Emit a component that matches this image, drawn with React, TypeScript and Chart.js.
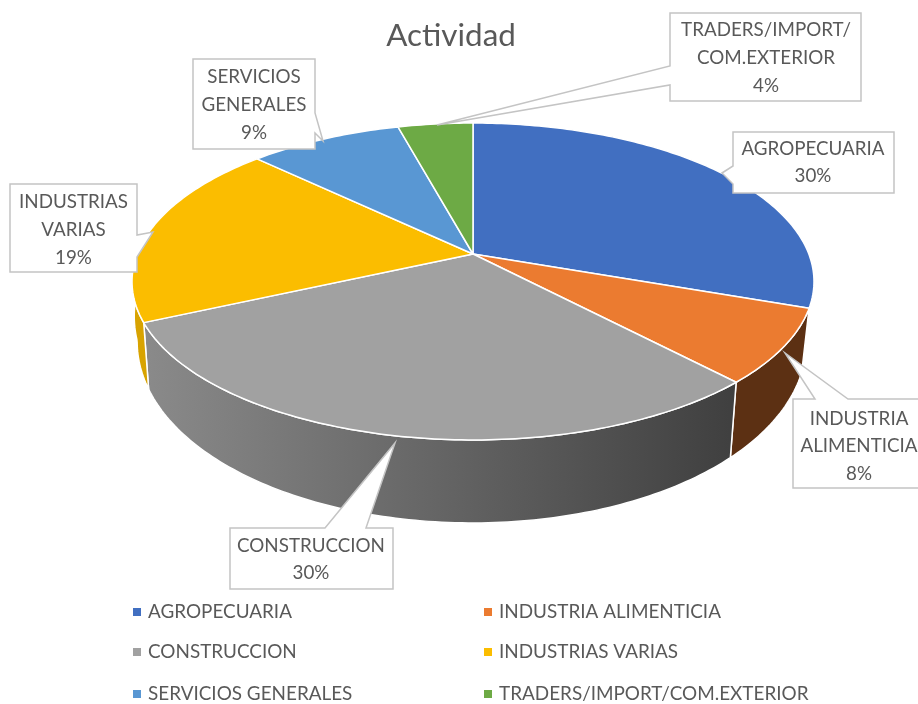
import React, { useEffect, useRef } from "react";
import { Chart, ArcElement, PieController, registerables } from "chart.js";

const TITLE = "Actividad";
const categories = [
  "AGROPECUARIA",
  "INDUSTRIA ALIMENTICIA",
  "CONSTRUCCION",
  "INDUSTRIAS VARIAS",
  "SERVICIOS GENERALES",
  "TRADERS/IMPORT/COM.EXTERIOR",
];
const shares = [30.4, 7.6, 30.2, 19, 8.6, 4.2];
const colors = ["#416FC1", "#EB7B30", "#A1A1A1", "#FBBD00", "#5997D3", "#6DAA45"];
const labelLines = [
  ["AGROPECUARIA"],
  ["INDUSTRIA", "ALIMENTICIA"],
  ["CONSTRUCCION"],
  ["INDUSTRIAS", "VARIAS"],
  ["SERVICIOS", "GENERALES"],
  ["TRADERS/IMPORT/", "COM.EXTERIOR"],
];

const FONT = "Lato, Carlito, sans-serif";
const TEXT = "#595959";
const EDGE = "#c4c4c4";

// Perspective of the disc, relative to the chart's outer radius
const PERSP = -0.1735;
const X_K = 1.326;
const Y_K = 0.6068;
const WALL_BASE = 0.2172;
const WALL_FRONT = 0.1106;

function project(a: any, theta: number) {
  const u = Math.cos(theta);
  const v = Math.sin(theta);
  const d = 1 + PERSP * v;
  const r = a.outerRadius;
  return { x: a.x + (r * X_K * u) / d, y: a.y + (r * Y_K * v) / d, v };
}
function projectBottom(a: any, theta: number) {
  const p = project(a, theta);
  const shrink = p.x > a.x ? 0.978 : Math.max(0.985, 1.008 - 0.135 * p.v);
  return {
    x: a.x + (p.x - a.x) * shrink,
    y: p.y + a.outerRadius * (WALL_BASE + WALL_FRONT * p.v),
  };
}

class Arc3D extends ArcElement {
  static id = "arc3d";
  draw(ctx: CanvasRenderingContext2D) {
    const a: any = this.getProps(["x", "y", "startAngle", "endAngle", "outerRadius"] as any, true);
    const o: any = this.options;
    ctx.save();
    ctx.beginPath();
    ctx.moveTo(a.x, a.y);
    const n = Math.max(4, Math.ceil((a.endAngle - a.startAngle) * 60));
    for (let i = 0; i <= n; i++) {
      const p = project(a, a.startAngle + ((a.endAngle - a.startAngle) * i) / n);
      ctx.lineTo(p.x, p.y);
    }
    ctx.closePath();
    ctx.fillStyle = o.backgroundColor;
    ctx.fill();
    ctx.lineJoin = "round";
    ctx.lineWidth = o.borderWidth;
    ctx.strokeStyle = o.borderColor;
    ctx.stroke();
    ctx.restore();
  }
}

class Pie3D extends PieController {
  static id = "pie3d";
  static defaults = { dataElementType: "arc3d" };
}

function shade(hex: string, f: number) {
  const n = parseInt(hex.slice(1), 16);
  const c = [(n >> 16) & 255, (n >> 8) & 255, n & 255].map((x) => Math.round(x * f));
  return `rgb(${c[0]},${c[1]},${c[2]})`;
}

const wallPlugin = {
  id: "wall",
  beforeDatasetsDraw(chart: any) {
    const ctx: CanvasRenderingContext2D = chart.ctx;
    const arcs = chart.getDatasetMeta(0).data;
    arcs.forEach((el: any, i: number) => {
      if (i === 0) return; // the first slice shows no side wall in the reference
      const a = el.getProps(["x", "y", "startAngle", "endAngle", "outerRadius"], true);
      const s = Math.max(a.startAngle, 0);
      const e = Math.min(a.endAngle, Math.PI);
      if (e <= s) return;
      const base = chart.data.datasets[0].backgroundColor[i];
      const g = ctx.createLinearGradient(145, 0, 737, 0);
      g.addColorStop(0, shade(base, 0.86));
      g.addColorStop(1, shade(base, 0.39));
      ctx.save();
      ctx.beginPath();
      const n = Math.max(4, Math.ceil((e - s) * 60));
      for (let k = 0; k <= n; k++) {
        const p = project(a, s + ((e - s) * k) / n);
        k ? ctx.lineTo(p.x, p.y) : ctx.moveTo(p.x, p.y);
      }
      for (let k = n; k >= 0; k--) {
        const p = projectBottom(a, s + ((e - s) * k) / n);
        ctx.lineTo(p.x, p.y);
      }
      ctx.closePath();
      ctx.fillStyle = g;
      ctx.fill();
      ctx.lineWidth = 1.5;
      ctx.strokeStyle = "#ffffff";
      ctx.stroke();
      ctx.restore();
    });
  },
};

// Callout layout: box, label centre, first text row, pointer outline
const callouts = [
  { box: [733, 132, 894, 193], cx: 813, y: 148.5, ptr: [[733, 166], [722, 173], [733, 184]], side: "left" },
  { box: [793, 399, 930, 488], cx: 859, y: 418.5, ptr: [[815, 399], [785, 353], [848, 399]], side: "top" },
  { box: [230, 528, 393, 589], cx: 311, y: 545.5, ptr: [[325, 528], [395, 443], [366, 528]], side: "top" },
  { box: [10, 184, 137, 272], cx: 73.5, y: 202, ptr: [[137, 235], [153, 232], [137, 257]], side: "right" },
  { box: [193, 59, 315, 149], cx: 254, y: 77, ptr: [[315, 113], [323, 141], [315, 133]], side: "right" },
  { box: [670, 13, 861, 101], cx: 766, y: 30, ptr: [[670, 66], [437, 125], [670, 85]], side: "left" },
];

const overlayPlugin = {
  id: "overlay",
  afterDatasetsDraw(chart: any) {
    const ctx: CanvasRenderingContext2D = chart.ctx;
    ctx.save();
    // title
    ctx.fillStyle = TEXT;
    ctx.textAlign = "center";
    ctx.textBaseline = "middle";
    ctx.font = `31.4px ${FONT}`;
    ctx.fillText(TITLE, 451, 36);

    // callouts
    callouts.forEach((c, i) => {
      const [l, t, r, b] = c.box;
      const [p0, tip, p1] = c.ptr;
      ctx.beginPath();
      ctx.moveTo(l, t);
      if (c.side === "top") { ctx.lineTo(p0[0], p0[1]); ctx.lineTo(tip[0], tip[1]); ctx.lineTo(p1[0], p1[1]); }
      ctx.lineTo(r, t);
      if (c.side === "right") { ctx.lineTo(p0[0], p0[1]); ctx.lineTo(tip[0], tip[1]); ctx.lineTo(p1[0], p1[1]); }
      ctx.lineTo(r, b);
      ctx.lineTo(l, b);
      if (c.side === "left") { ctx.lineTo(p1[0], p1[1]); ctx.lineTo(tip[0], tip[1]); ctx.lineTo(p0[0], p0[1]); }
      ctx.closePath();
      ctx.fillStyle = "#ffffff";
      ctx.fill();
      ctx.lineWidth = 1.5;
      ctx.strokeStyle = EDGE;
      ctx.stroke();

      ctx.fillStyle = TEXT;
      ctx.font = `18.8px ${FONT}`;
      const lines = [...labelLines[i], `${Math.round(shares[i])}%`];
      lines.forEach((s, k) => ctx.fillText(s, c.cx, c.y + k * 27.8));
    });

    // legend, two columns reading across
    ctx.textAlign = "left";
    ctx.font = `18.9px ${FONT}`;
    const colX = [133, 484];
    const rowY = [611.5, 651.5, 693.5];
    chart.data.labels.forEach((s: string, i: number) => {
      const x = colX[i % 2];
      const y = rowY[Math.floor(i / 2)];
      ctx.fillStyle = chart.data.datasets[0].backgroundColor[i];
      ctx.fillRect(x, Math.round(y) - 4, 8, 8);
      ctx.fillStyle = TEXT;
      ctx.fillText(s, x + 15, y);
    });
    ctx.restore();
  },
};

Chart.register(...registerables, Arc3D as any, Pie3D as any);

export default function App() {
  const ref = useRef<HTMLCanvasElement>(null);
  useEffect(() => {
    const chart = new Chart(ref.current as HTMLCanvasElement, {
      type: "pie3d" as any,
      data: {
        labels: categories,
        datasets: [
          {
            data: shares,
            backgroundColor: colors,
            borderColor: "#ffffff",
            borderWidth: 1.5,
          },
        ],
      },
      options: {
        responsive: false,
        animation: false,
        events: [],
        layout: { padding: { left: 28, right: 0, top: 0, bottom: 196 } },
        plugins: { legend: { display: false }, tooltip: { enabled: false } },
      },
      plugins: [wallPlugin, overlayPlugin],
    } as any);
    return () => chart.destroy();
  }, []);
  return (
    <div style={{ position: "absolute", left: 0, top: 0, width: 918, height: 704, overflow: "hidden", background: "#fff" }}>
      <canvas ref={ref} width={918} height={704} style={{ display: "block", width: 918, height: 704, filter: "blur(0.45px)" }} />
    </div>
  );
}
